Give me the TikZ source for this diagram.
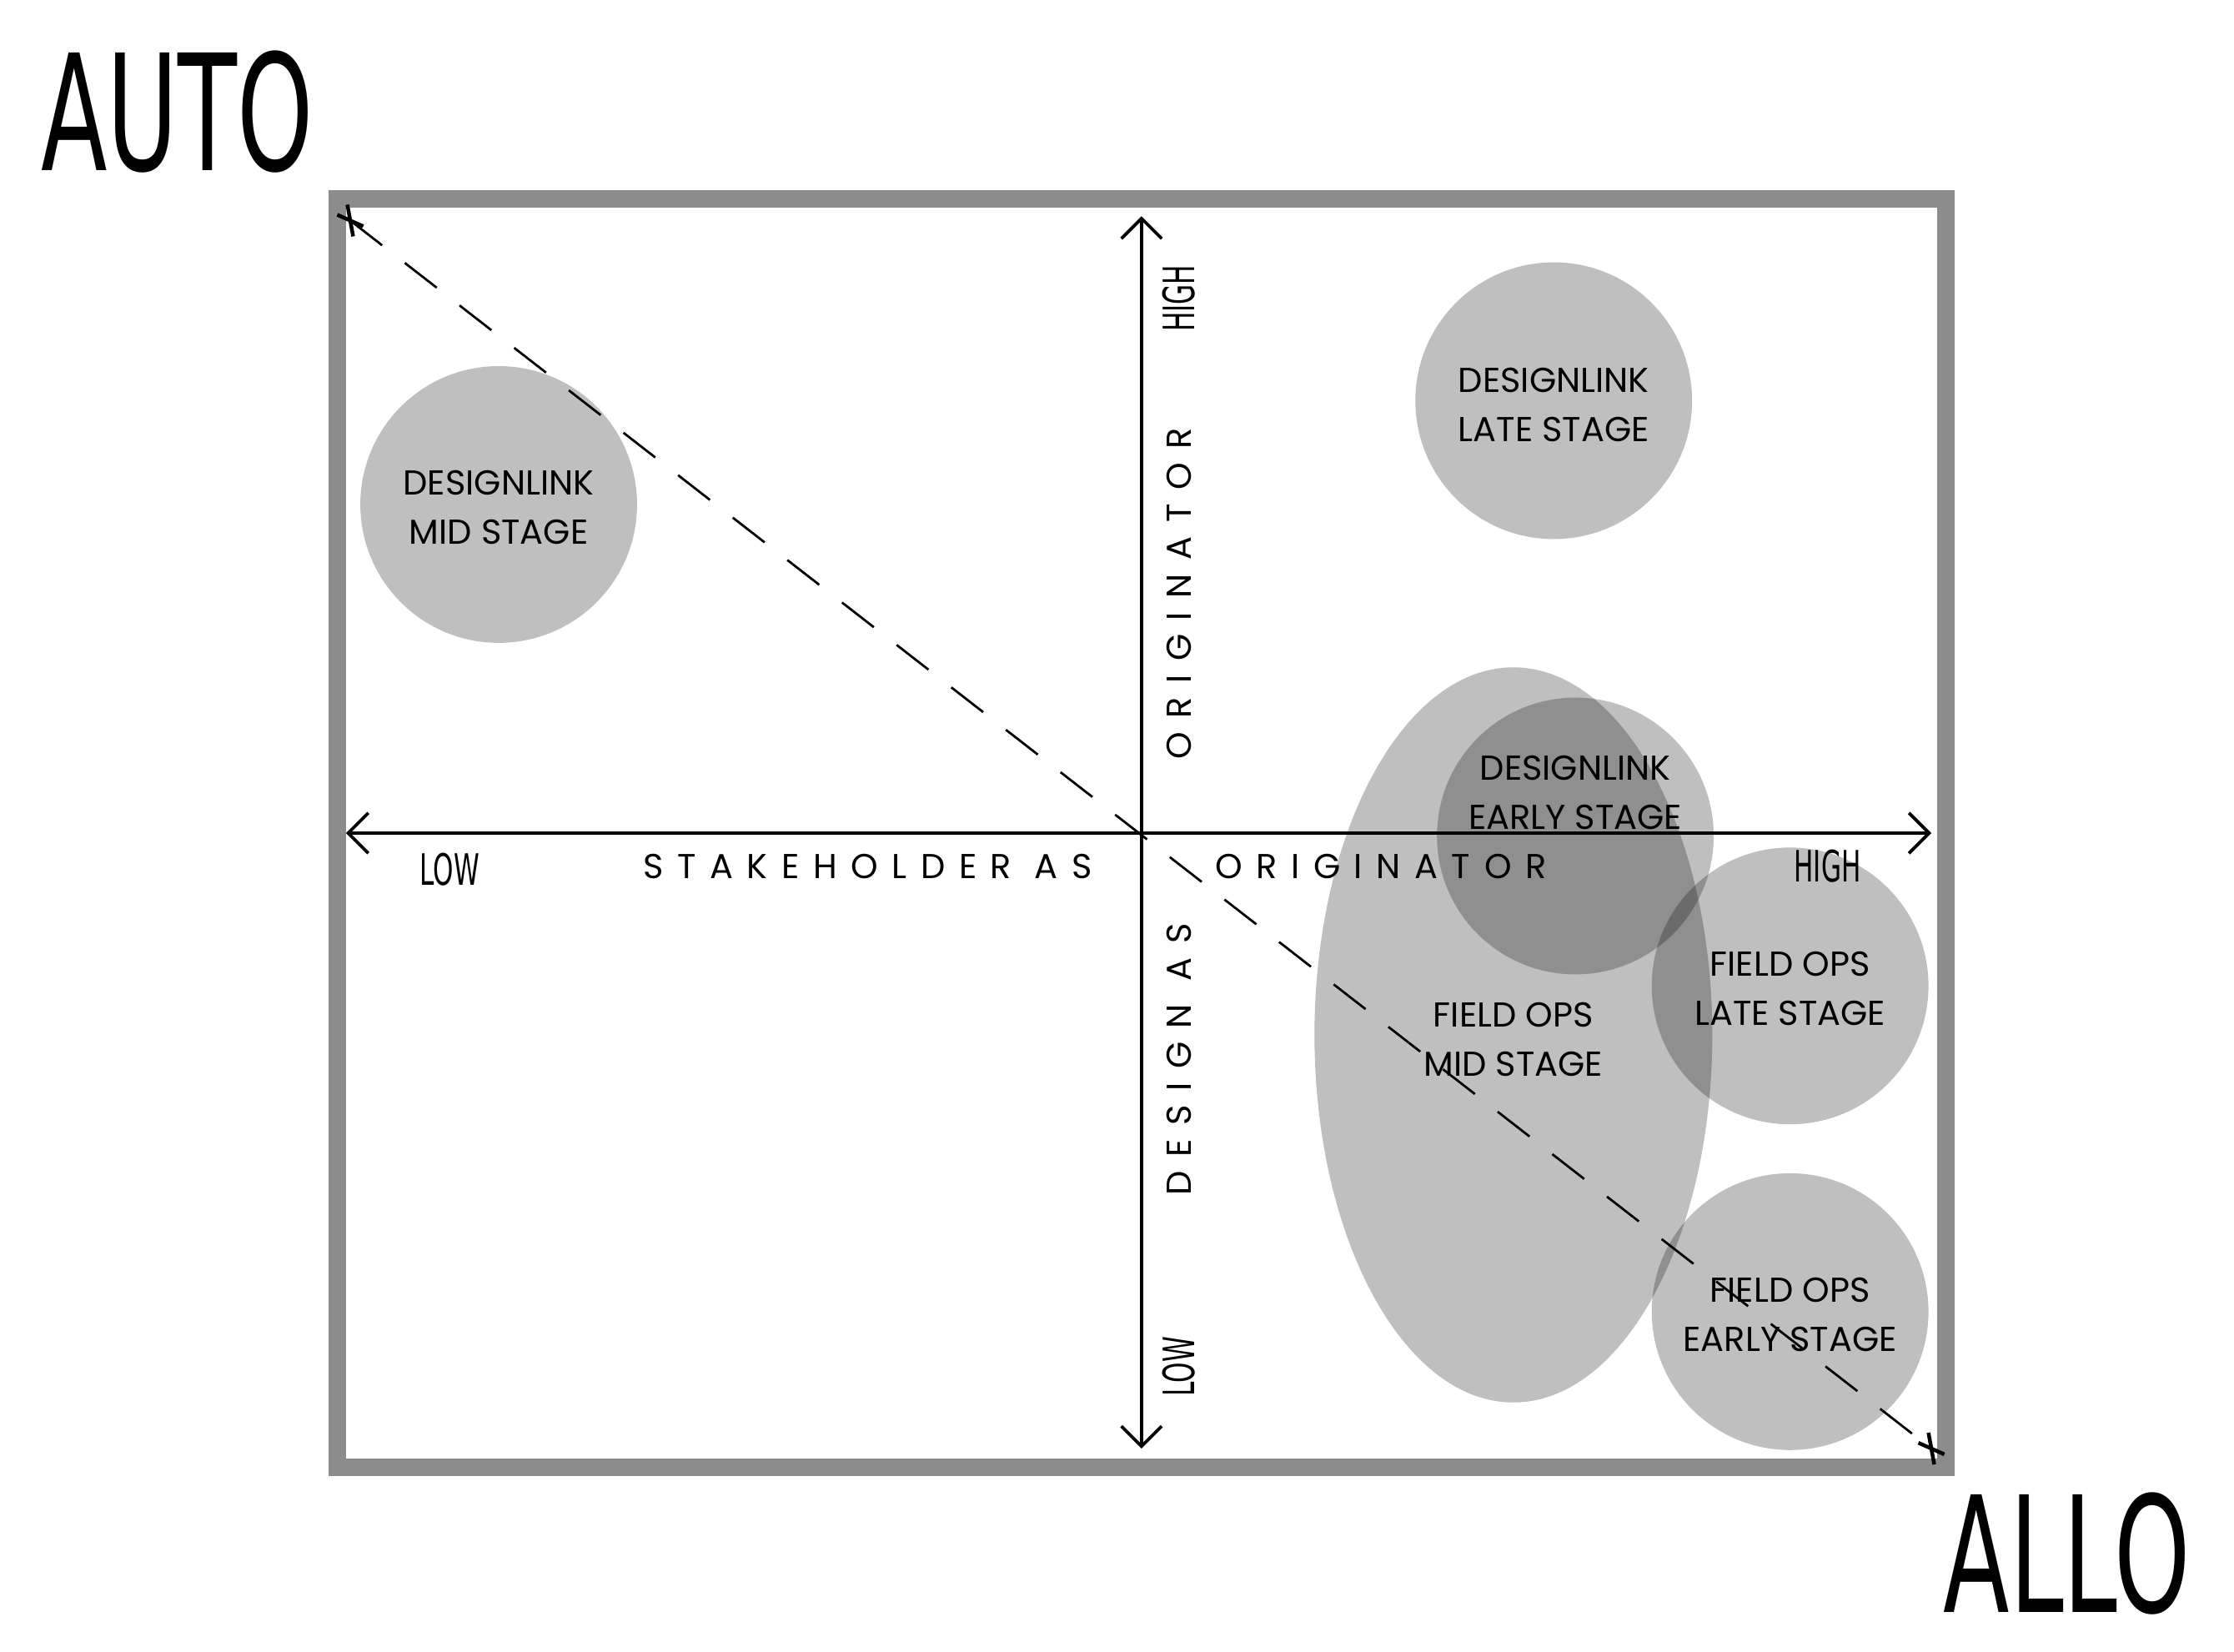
\documentclass[tikz,border=0pt]{standalone}
\usepackage{fontspec}
\setmainfont{Poppins}
\newfontfamily\hand{DejaVu Sans}[FakeStretch=0.6]
\newfontfamily\spaced{Poppins}[LetterSpace=40]
\usetikzlibrary{arrows.meta,calc}
\begin{document}
\begin{tikzpicture}[x=0.5pt,y=-0.5pt,
  blob/.style={fill=black,fill opacity=0.25,draw=none},
  lab/.style={font=\fontsize{12}{17}\selectfont,align=center,text=black},
  ax/.style={line width=1.1pt,{Straight Barb[length=7pt,width=14pt]}-{Straight Barb[length=7pt,width=14pt]}},
  axl/.style={font=\spaced\fontsize{12}{14}\selectfont,text=black},
  big/.style={font=\hand\fontsize{56}{56}\selectfont\mdseries,anchor=north west,inner sep=0pt}]
\useasboundingbox (0,0) rectangle (1550,1146);
\fill[white] (0,0) rectangle (1550,1146);
\draw[line width=6pt,draw=black!45] (234,138) rectangle (1350,1018);
% circles
\fill[blob] (346,350) circle[radius=96];
\fill[blob] (1078,278) circle[radius=96];
\fill[blob] (1050,718) ellipse[x radius=138,y radius=255];
\fill[blob] (1093,580) circle[radius=96];
\fill[blob] (1242,684) circle[radius=96];
\fill[blob] (1242,910) circle[radius=96];
% diagonal
\coordinate (tl) at (243,153); \coordinate (br) at (1340,1005);
\draw[dashed,dash pattern=on 14pt off 10pt,line width=0.8pt] (tl) -- (br);
\draw[line width=1.3pt] ($(tl)+(-9,-4)$) -- ++(18,8) ($(tl)+(-2,-11)$) -- ++(4,22);
\draw[line width=1.3pt] ($(br)+(-9,-4)$) -- ++(18,8) ($(br)+(-2,-11)$) -- ++(4,22);
% axes
\coordinate (vt) at (792,150); \coordinate (vb) at (792,1005);
\coordinate (hl) at (240,578); \coordinate (hr) at (1340,578);
\draw[ax] (vb) -- (vt);
\draw[ax] (hl) -- (hr);
\node[axl] (st) at (602,601) {STAKEHOLDER AS};
\node[axl] (or) at (958,601) {ORIGINATOR};
\node[font=\hand\fontsize{15}{15}\selectfont] (lo) at (312,603) {LOW};
\node[font=\hand\fontsize{15}{15}\selectfont] (hi) at (1268,601) {HIGH};
\node[axl,rotate=90] (vo) at (818,412) {ORIGINATOR};
\node[axl,rotate=90] (vd) at (818,735) {DESIGN AS};
\node[font=\hand\fontsize{15}{15}\selectfont,rotate=90] (vh) at (818,207) {HIGH};
\node[font=\hand\fontsize{15}{15}\selectfont,rotate=90] (vl) at (818,948) {LOW};
% labels
\node[lab] (a) at (346,352) {DESIGNLINK\\MID STAGE};
\node[lab] (b) at (1078,281) {DESIGNLINK\\LATE STAGE};
\node[lab] (c) at (1093,550) {DESIGNLINK\\EARLY STAGE};
\node[lab] (d) at (1050,721) {FIELD OPS\\MID STAGE};
\node[lab] (e) at (1242,686) {FIELD OPS\\LATE STAGE};
\node[lab] (f) at (1242,912) {FIELD OPS\\EARLY STAGE};
\node[big] (auto) at (28,35) {AUTO};
\node[big] (allo) at (1348,1035) {ALLO};
\end{tikzpicture}
\end{document}
